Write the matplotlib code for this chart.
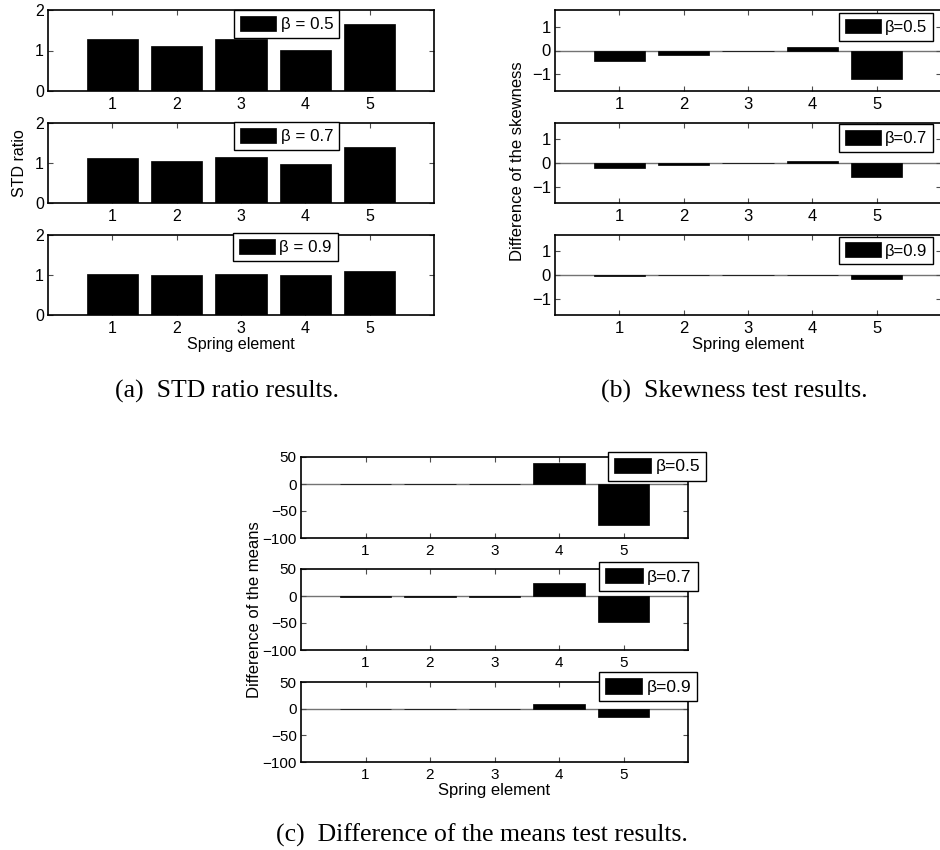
import matplotlib
matplotlib.use("Agg")
import matplotlib.pyplot as plt

plt.rcParams["font.family"] = ["Liberation Sans", "DejaVu Sans"]

ELEMENTS = [1, 2, 3, 4, 5]
BETAS = ["0.5", "0.7", "0.9"]

# (a) STD ratio
STD_RATIO = [
    [1.29, 1.11, 1.28, 1.01, 1.65],
    [1.12, 1.04, 1.14, 0.97, 1.40],
    [1.03, 1.00, 1.02, 1.01, 1.11],
]
# (b) difference of skewness
SKEW_DIFF = [
    [-0.43, -0.17, -0.03, 0.15, -1.19],
    [-0.20, -0.08, -0.02, 0.07, -0.58],
    [-0.03, -0.01, -0.01, 0.01, -0.16],
]
# (c) difference of means
MEAN_DIFF = [
    [-0.5, -0.4, -0.5, 38.0, -75.0],
    [-1.0, -1.0, -1.0, 25.0, -49.0],
    [-1.2, -1.1, -1.2, 8.5, -16.0],
]

W, H = 940, 850
fig = plt.figure(figsize=(W / 100, H / 100), dpi=100)


def px_axes(x0, y0, x1, y1):
    return fig.add_axes([x0 / W, 1 - y1 / H, (x1 - x0) / W, (y1 - y0) / H])


def panel(ax, vals, ylim, yticks, label, leg_anchor, leg_loc, fs, leg_fs, zero_line):
    bars = ax.bar(ELEMENTS, vals, width=0.8, color="black", edgecolor="black",
                  linewidth=0.5, zorder=2)
    if zero_line:
        ax.axhline(0, color="0.45", lw=1.0, zorder=1.5)
    ax.set_xlim(0, 6)
    ax.set_ylim(*ylim)
    ax.set_xticks(ELEMENTS)
    ax.set_yticks(yticks)
    ax.tick_params(direction="in", top=True, right=True, length=3.5, width=0.8,
                   color="0.3", labelsize=fs, pad=4)
    ax.tick_params(axis="y", pad=3)
    for s in ax.spines.values():
        s.set_linewidth(1.2)
    leg = ax.legend([bars], [label], loc=leg_loc, bbox_to_anchor=leg_anchor, borderaxespad=0,
                    fontsize=leg_fs, handlelength=2.15, handleheight=1.0,
                    handletextpad=0.25, borderpad=0.35, fancybox=False,
                    framealpha=1, edgecolor="black")
    leg.get_frame().set_linewidth(1.0)
    leg.set_zorder(5)


rows_ab = [(10, 91), (123, 203), (235, 315)]
rows_c = [(457, 538), (569, 650), (682, 762)]

# (a)
a_anchor = [(0.482, 1.0), (0.482, 1.012), (0.479, 1.025)]
for i, (y0, y1) in enumerate(rows_ab):
    ax = px_axes(48, y0, 434, y1)
    panel(ax, STD_RATIO[i], (0, 2), [0, 1, 2], "\u03b2 = " + BETAS[i],
          a_anchor[i], "upper left", 11.5, 12.2, False)
    if i == 2:
        ax.set_xlabel("Spring element", fontsize=11.5, labelpad=1)
fig.text(20 / W, 1 - 163 / H, "STD ratio", rotation=90, ha="center", va="center", fontsize=11.5)

# (b)
b_anchor = [(0.979, 0.967), (0.979, 0.984), (0.979, 0.98)]
for i, (y0, y1) in enumerate(rows_ab):
    ax = px_axes(555, y0, 941, y1)
    panel(ax, SKEW_DIFF[i], (-1.7, 1.7), [-1, 0, 1], "\u03b2=" + BETAS[i],
          b_anchor[i], "upper right", 12, 12, True)
    if i == 2:
        ax.set_xlabel("Spring element", fontsize=12, labelpad=1)
fig.text(517 / W, 1 - 161 / H, "Difference of the skewness", rotation=90,
         ha="center", va="center", fontsize=12)

# (c)
c_anchor = [(0.793, 1.066), (0.771, 1.09), (0.769, 1.12)]
for i, (y0, y1) in enumerate(rows_c):
    ax = px_axes(301, y0, 688, y1)
    panel(ax, MEAN_DIFF[i], (-100, 50), [-100, -50, 0, 50], "\u03b2=" + BETAS[i],
          c_anchor[i], "upper left", 11, 12.5, True)
    if i == 2:
        ax.set_xlabel("Spring element", fontsize=12, labelpad=1)
fig.text(255 / W, 1 - 610 / H, "Difference of the means", rotation=90,
         ha="center", va="center", fontsize=12)

serif = ["Liberation Serif", "DejaVu Serif"]
fig.text(227 / W, 1 - 398 / H, "(a)  STD ratio results.", ha="center", va="baseline",
         fontsize=18.5, family=serif)
fig.text(734 / W, 1 - 398 / H, "(b)  Skewness test results.", ha="center", va="baseline",
         fontsize=18.5, family=serif)
fig.text(482 / W, 1 - 842 / H, "(c)  Difference of the means test results.", ha="center",
         va="baseline", fontsize=18.5, family=serif)

fig.savefig("out.png", dpi=100)
